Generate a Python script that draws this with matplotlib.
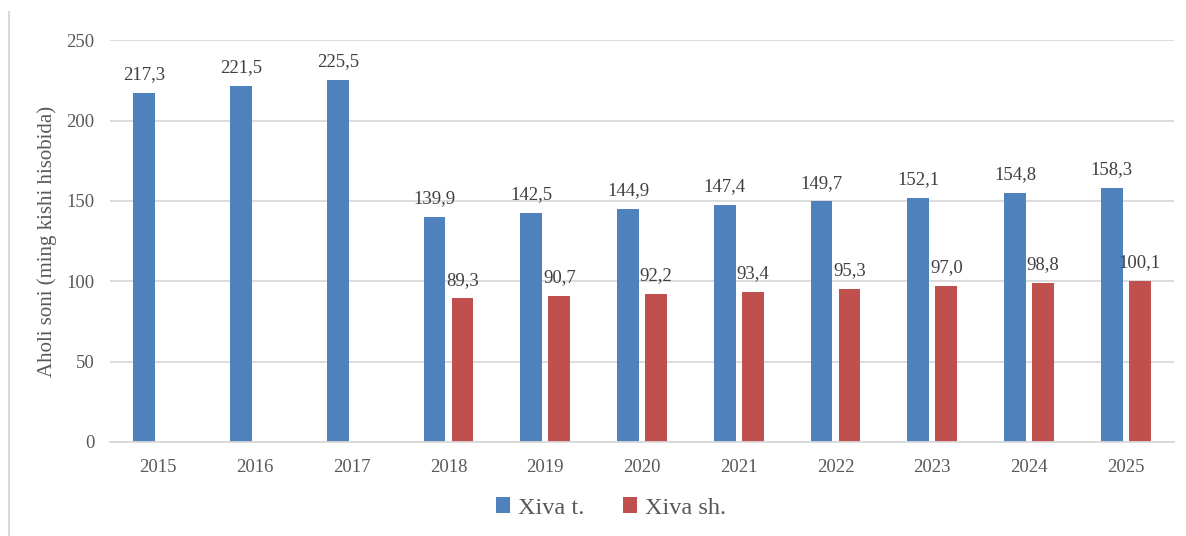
import matplotlib
matplotlib.use("Agg")
import matplotlib.pyplot as plt
import numpy as np
from matplotlib.lines import Line2D

years = ["2015", "2016", "2017", "2018", "2019", "2020", "2021", "2022", "2023", "2024", "2025"]
xiva_t = [217.3, 221.5, 225.5, 139.9, 142.5, 144.9, 147.4, 149.7, 152.1, 154.8, 158.3]
xiva_sh = [None, None, None, 89.3, 90.7, 92.2, 93.4, 95.3, 97.0, 98.8, 100.1]
yticks = [0, 50, 100, 150, 200, 250]

plt.rcParams['font.family'] = ['Liberation Serif', 'DejaVu Serif']

fig = plt.figure(figsize=(11.86, 5.36), dpi=100)
ax = fig.add_axes([0.0927, 0.1754, 0.8973, 0.7496])

blue = "#4F81BD"
red = "#C0504D"
x = np.arange(len(years))
w = 0.225
off = 0.145

bt = ax.bar(x - off, xiva_t, width=w, color=blue, label="Xiva t.", zorder=3)
sh_x = [xi + off for xi, v in zip(x, xiva_sh) if v is not None]
sh_v = [v for v in xiva_sh if v is not None]
bs = ax.bar(sh_x, sh_v, width=w, color=red, label="Xiva sh.", zorder=3)

def fmt(v):
    return f"{v:.1f}".replace(".", ",")

for xi, v in zip(x - off, xiva_t):
    ax.annotate(fmt(v), (xi, v), xytext=(0, 7), textcoords="offset points",
                ha="center", va="bottom", fontsize=13.5, color="#404040")
for xi, v in zip(sh_x, sh_v):
    ax.annotate(fmt(v), (xi, v), xytext=(0, 7), textcoords="offset points",
                ha="center", va="bottom", fontsize=13.5, color="#404040")

ax.set_xlim(-0.5, len(years) - 0.5)
ax.set_ylim(0, 250)
ax.set_yticks(yticks)
ax.set_xticks(x)
ax.set_xticklabels(years)
ax.tick_params(axis="both", length=0, labelsize=13.5, colors="#595959")
ax.tick_params(axis="y", pad=11)
ax.tick_params(axis="x", pad=12)
ax.grid(axis="y", color="#D9D9D9", linewidth=1.3, zorder=0)
ax.set_axisbelow(True)
for s in ["top", "right", "left"]:
    ax.spines[s].set_visible(False)
ax.spines["bottom"].set_color("#D9D9D9")
ax.spines["bottom"].set_linewidth(1.3)
ax.spines["bottom"].set_zorder(4)

ax.set_ylabel("Aholi soni (ming kishi hisobida)", fontsize=15, color="#595959", labelpad=7)

leg = fig.legend(handles=[bt, bs], loc="center", bbox_to_anchor=(0.515, 0.052), ncol=2,
                 frameon=False, fontsize=17.5, handlelength=0.6, handleheight=0.6,
                 handletextpad=0.3, columnspacing=1.6, labelcolor="#595959")

fig.add_artist(Line2D([0.0076, 0.0076], [0.0, 0.978], transform=fig.transFigure,
                      color="#D9D9D9", linewidth=1.5))

fig.savefig("out.png", dpi=100)
